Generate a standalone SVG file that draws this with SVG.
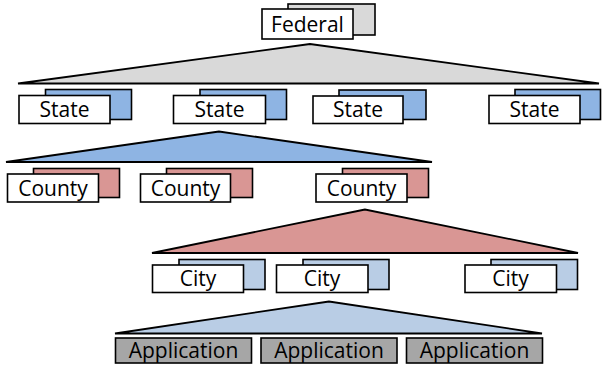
<svg xmlns="http://www.w3.org/2000/svg" width="602" height="371" viewBox="0 0 602 371">
<style>
rect{stroke:#000;stroke-width:1.6}
.f{fill:#fff}
.g{fill:#d9d9d9}
.b{fill:#8eb4e3}
.r{fill:#d99694}
.c{fill:#b9cde5}
.a{fill:#a6a6a6}
polygon{stroke:#000;stroke-width:1.8;stroke-linejoin:miter}
text{font-family:"Open Sans","Noto Sans","Liberation Sans",sans-serif;font-size:21px;fill:#000;text-anchor:middle}
</style>
<rect width="602" height="371" fill="#fff" style="stroke:none"/>
<g id="connectors">
<polygon class="g" points="310,44 18,83.5 599,83.5"/>
<polygon class="b" points="219,131.5 6,162 432,162"/>
<polygon class="r" points="365,209.5 152,253 578,253"/>
<polygon class="c" points="329,301.5 115,333.5 542,333.5"/>
</g>
<g id="federal">
<rect class="g" x="288" y="4" width="87" height="31"/>
<rect class="f" x="262" y="9" width="91" height="30"/>
<text x="307.5" y="31.5">Federal</text>
</g>
<g id="state1">
<rect class="b" x="45.5" y="89.5" width="86" height="30"/>
<rect class="f" x="19" y="95.5" width="91" height="28"/>
<text x="64.5" y="117">State</text>
</g>
<g id="state2">
<rect class="b" x="200" y="89.5" width="86.5" height="30"/>
<rect class="f" x="173.5" y="95.5" width="92" height="28"/>
<text x="219.5" y="117">State</text>
</g>
<g id="state3">
<rect class="b" x="339" y="90" width="87" height="29.5"/>
<rect class="f" x="313" y="96" width="90" height="27.5"/>
<text x="358" y="117">State</text>
</g>
<g id="state4">
<rect class="b" x="515" y="89.5" width="85.5" height="30"/>
<rect class="f" x="489" y="95.5" width="91" height="28"/>
<text x="534.5" y="117">State</text>
</g>
<g id="county1">
<rect class="r" x="33.5" y="168.5" width="86" height="29"/>
<rect class="f" x="7.5" y="174" width="91" height="28"/>
<text x="53" y="195.5">County</text>
</g>
<g id="county2">
<rect class="r" x="166.5" y="168.5" width="86" height="29"/>
<rect class="f" x="140.5" y="174" width="90" height="28"/>
<text x="185.5" y="195.5">County</text>
</g>
<g id="county3">
<rect class="r" x="342.5" y="168.5" width="86" height="29"/>
<rect class="f" x="316" y="174" width="91" height="28"/>
<text x="361.5" y="195.5">County</text>
</g>
<g id="city1">
<rect class="c" x="179" y="259.5" width="86" height="30"/>
<rect class="f" x="152.5" y="265" width="91" height="27.5"/>
<text x="198" y="286">City</text>
</g>
<g id="city2">
<rect class="c" x="303" y="259.5" width="86" height="30"/>
<rect class="f" x="276.5" y="265" width="91.5" height="27.5"/>
<text x="322" y="286">City</text>
</g>
<g id="city3">
<rect class="c" x="491" y="259.5" width="86.5" height="30"/>
<rect class="f" x="465" y="265" width="91.5" height="27.5"/>
<text x="510.5" y="286">City</text>
</g>
<g id="app1">
<rect class="a" x="115.5" y="338" width="136" height="25"/>
<text x="183.5" y="358">Application</text>
</g>
<g id="app2">
<rect class="a" x="261" y="338" width="136" height="25"/>
<text x="329" y="358">Application</text>
</g>
<g id="app3">
<rect class="a" x="406.5" y="338" width="136" height="25"/>
<text x="474.5" y="358">Application</text>
</g>
</svg>
